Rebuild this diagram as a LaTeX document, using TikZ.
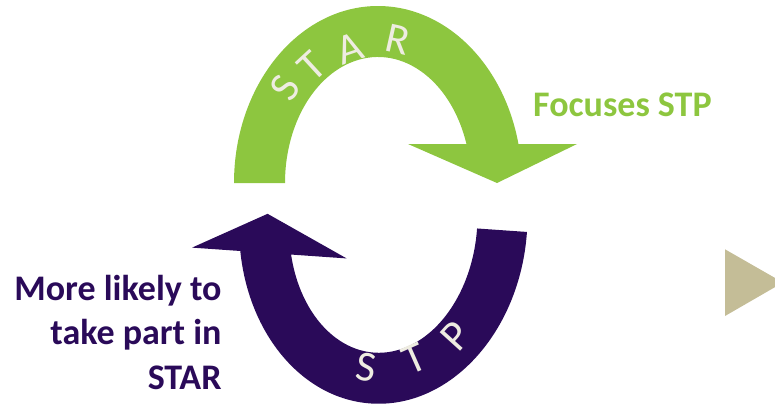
\documentclass[tikz,border=0pt]{standalone}
\usepackage{fontspec}
\setmainfont{Carlito}
\definecolor{stargreen}{RGB}{141,198,63}
\definecolor{stppurple}{RGB}{42,10,89}
\definecolor{lettercol}{RGB}{238,236,225}
\definecolor{tanmark}{RGB}{196,189,151}
\begin{document}
\begin{tikzpicture}[x=1pt,y=1pt,
  arclabel/.style={text=lettercol, font=\fontsize{43}{43}\selectfont, inner sep=0pt},
  sidelabel/.style={font=\fontsize{36}{44}\selectfont\bfseries, inner sep=0pt}]
\useasboundingbox (0,0) rectangle (775,-405);
\clip (0,0) rectangle (775,-405);

% upper loop arrow (green), drawn around its ellipse centre
\begin{scope}[shift={(378,-183)}]
  \fill[stargreen] (-144,0)
    arc[start angle=180, end angle={asin(39/177)}, x radius=144, y radius=177]
    -- (199,39) -- (119,0) -- (30,39) -- ({93*cos(asin(39/126))},39)
    arc[start angle={asin(39/126)}, end angle=180, x radius=93, y radius=126]
    -- cycle;
\end{scope}

% lower loop arrow (purple), the same form turned almost upside down
\begin{scope}[shift={(383.3,-221.9)}, rotate=176]
  \fill[stppurple] (-144,0)
    arc[start angle=180, end angle={asin(39/182)}, x radius=144, y radius=182]
    -- (189,39) -- (116,0) -- (34,39) -- ({94*cos(asin(39/131))},39)
    arc[start angle={asin(39/131)}, end angle=180, x radius=94, y radius=131]
    -- cycle;
\end{scope}

% letters set along the arcs
\node[arclabel, rotate=57.9]  (starS) at (285,-88)   {S};
\node[arclabel, rotate=42.6]  (starT) at (312,-66)   {T};
\node[arclabel, rotate=18.7]  (starA) at (350,-48)   {A};
\node[arclabel, rotate=-12.7] (starR) at (398,-40)   {R};

\node[arclabel, rotate=-8.3]  (stpS) at (366.7,-367.3) {S};
\node[arclabel, rotate=23.8]  (stpT) at (415,-359)     {T};
\node[arclabel, rotate=47.8]  (stpP) at (455.7,-335.7) {P};

% side captions
\node[sidelabel, text=stargreen, anchor=base west] (focus) at (533,-116.7) {Focuses STP};
\node[sidelabel, text=stppurple, anchor=base east] (more1) at (221.7,-300.7) {More likely to};
\node[sidelabel, text=stppurple, anchor=base east] (more2) at (221.7,-344)   {take part in};
\node[sidelabel, text=stppurple, anchor=base east] (more3) at (221.7,-389)   {STAR};

% next-slide marker at the right edge
\fill[tanmark] (725,-249.3) -- (783,-282.5) -- (725,-316) -- cycle;
\end{tikzpicture}
\end{document}
